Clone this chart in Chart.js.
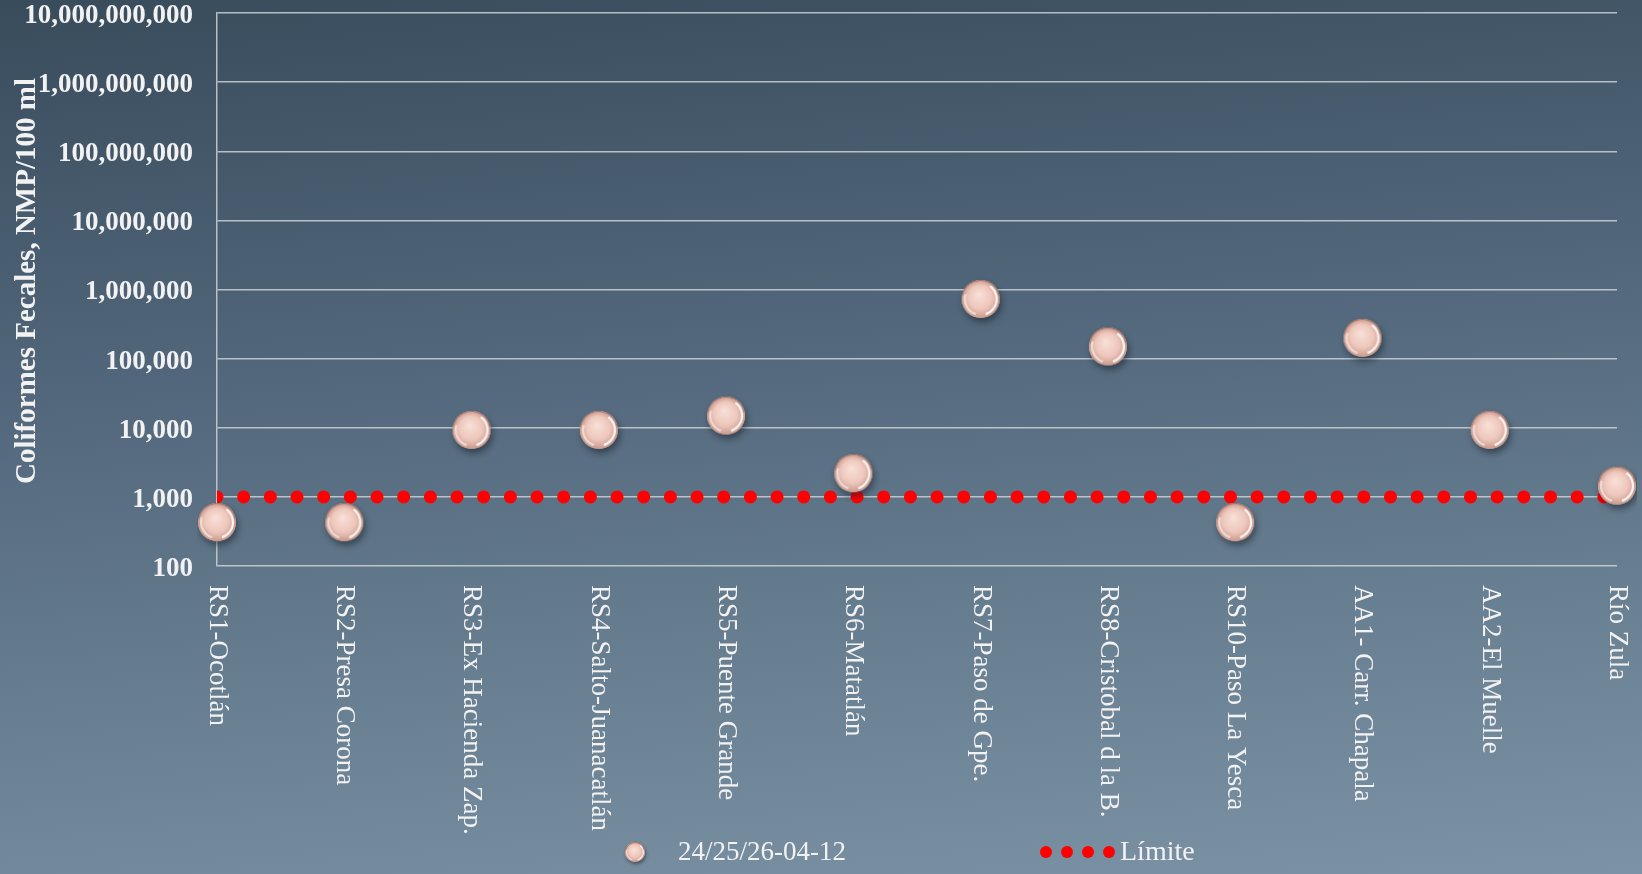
<!DOCTYPE html>
<html>
<head>
<meta charset="utf-8">
<script src="https://cdn.jsdelivr.net/npm/chart.js@4/dist/chart.umd.min.js"></script>
<style>
  html, body { margin: 0; padding: 0; }
  body {
    width: 1642px; height: 874px; overflow: hidden;
    background: linear-gradient(175deg, #394c5c 0%, #51667a 38%, #667c8f 68%, #7c92a5 100%);
  }
</style>
</head>
<body>
<canvas id="chart" width="1642" height="874"></canvas>
<script>
// stations along the river
const stations = [
  "RS1-Ocotlán", "RS2-Presa Corona", "RS3-Ex Hacienda Zap.", "RS4-Salto-Juanacatlán",
  "RS5-Puente Grande", "RS6-Matatlán", "RS7-Paso de Gpe.", "RS8-Cristobal d la B.",
  "RS10-Paso La Yesca", "AA1- Carr. Chapala", "AA2-El Muelle", "Río Zula"
];
// fecal coliforms NMP/100 ml
const muestreo = [430, 430, 9300, 9300, 15000, 2200, 730000, 150000, 430, 200000, 9300, 1450];
const limite = [1000, 1000, 1000, 1000, 1000, 1000, 1000, 1000, 1000, 1000, 1000, 1000];
const seriesNames = ["24/25/26-04-12", "Límite"];
const yTicks = [100, 1000, 10000, 100000, 1000000, 10000000, 100000000, 1000000000, 10000000000];
const yTitle = "Coliformes Fecales, NMP/100 ml";

// little shiny sphere used as point marker
function makeBall(r) {
  const pad = Math.ceil(r * 0.45) + 4;
  const size = 2 * (r + pad);
  const c = document.createElement("canvas");
  c.width = c.height = size;
  const g = c.getContext("2d");
  const cx = size / 2, cy = size / 2;
  g.save();
  g.shadowColor = "rgba(15,25,35,0.5)";
  g.shadowBlur = r * 0.35;
  g.shadowOffsetX = r * 0.1;
  g.shadowOffsetY = r * 0.22;
  g.beginPath(); g.arc(cx, cy, r, 0, Math.PI * 2);
  g.fillStyle = "#dcaea0"; g.fill();
  g.restore();
  const grad = g.createRadialGradient(cx - r * 0.1, cy - r * 0.25, r * 0.05, cx, cy, r);
  grad.addColorStop(0, "#f8dfd7");
  grad.addColorStop(0.6, "#eec7bc");
  grad.addColorStop(1, "#c9998c");
  g.beginPath(); g.arc(cx, cy, r, 0, Math.PI * 2);
  g.fillStyle = grad; g.fill();
  // rim highlights
  g.lineWidth = Math.max(1, r * 0.12);
  g.strokeStyle = "rgba(255,255,255,0.85)";
  g.beginPath(); g.arc(cx, cy, r * 0.84, -Math.PI * 0.3, Math.PI * 0.4); g.stroke();
  g.strokeStyle = "rgba(255,255,255,0.55)";
  g.beginPath(); g.arc(cx, cy, r * 0.84, Math.PI * 0.6, Math.PI * 1.1); g.stroke();
  g.lineWidth = 1;
  g.strokeStyle = "rgba(140,90,75,0.6)";
  g.beginPath(); g.arc(cx, cy, r - 0.5, Math.PI * 1.05, Math.PI * 1.95); g.stroke();
  return c;
}

const ball = makeBall(19);
const smallBall = makeBall(10);

// axis title, y tick labels, rotated station names and legend
const extras = {
  id: "extras",
  afterDraw(chart) {
    const ctx = chart.ctx;
    const xs = chart.scales.x;
    const ys = chart.scales.y;
    const bottom = chart.chartArea.bottom;
    ctx.save();
    ctx.fillStyle = "#f2f2f2";

    ctx.font = 'bold 29px "Liberation Serif"';
    ctx.textAlign = "center";
    ctx.textBaseline = "middle";
    ctx.save();
    ctx.translate(28, 281);
    ctx.rotate(-Math.PI / 2);
    ctx.fillText(yTitle, 0, 0);
    ctx.restore();

    ctx.font = 'bold 27px "Liberation Serif"';
    ctx.textAlign = "right";
    yTicks.forEach(v => {
      ctx.fillText(v.toLocaleString("en-US"), 193, ys.getPixelForValue(v) + 3);
    });

    ctx.font = '27px "Liberation Serif"';
    ctx.textAlign = "left";
    stations.forEach((s, i) => {
      ctx.save();
      ctx.translate(xs.getPixelForValue(i), bottom + 19);
      ctx.rotate(Math.PI / 2);
      ctx.fillText(s, 0, 0);
      ctx.restore();
    });

    // legend
    const ly = 852;
    ctx.drawImage(smallBall, 635 - smallBall.width / 2, ly - smallBall.height / 2);
    ctx.fillText(seriesNames[0], 678, ly + 1);
    ctx.fillStyle = "#ff0000";
    for (let k = 0; k < 4; k++) {
      ctx.beginPath();
      ctx.arc(1046 + k * 21, ly, 6, 0, Math.PI * 2);
      ctx.fill();
    }
    ctx.fillStyle = "#f2f2f2";
    ctx.font = '28px "Liberation Serif"';
    ctx.fillText(seriesNames[1], 1120, ly + 1);
    ctx.restore();
  }
};

const gridColor = "rgba(205,210,215,0.85)";

new Chart(document.getElementById("chart").getContext("2d"), {
  type: "line",
  data: {
    labels: stations,
    datasets: [
      {
        label: seriesNames[0],
        data: muestreo,
        showLine: false,
        pointStyle: ball,
        pointRadius: 19,
        backgroundColor: "#e8bdb1",
        borderColor: "#e8bdb1"
      },
      {
        label: seriesNames[1],
        data: limite,
        borderColor: "#ff0000",
        borderWidth: 13,
        borderDash: [0, 26.67],
        borderCapStyle: "round",
        pointRadius: 0,
        fill: false,
        clip: 0
      }
    ]
  },
  options: {
    responsive: false,
    animation: false,
    layout: { autoPadding: false, padding: { left: 0, right: 25, top: 13, bottom: 0 } },
    plugins: {
      legend: { display: false },
      tooltip: { enabled: false }
    },
    scales: {
      x: {
        type: "category",
        offset: false,
        grid: { display: false },
        border: { display: false },
        ticks: { display: false },
        afterFit: (s) => { s.height = 308; }
      },
      y: {
        type: "logarithmic",
        min: 100,
        max: 10000000000,
        afterBuildTicks: (s) => { s.ticks = yTicks.map(v => ({ value: v })); },
        afterFit: (s) => { s.width = 217; },
        grid: { color: gridColor, lineWidth: 1.5, drawTicks: false },
        border: { color: gridColor, width: 1.5 },
        ticks: { display: false }
      }
    }
  },
  plugins: [extras]
});
</script>
</body>
</html>
